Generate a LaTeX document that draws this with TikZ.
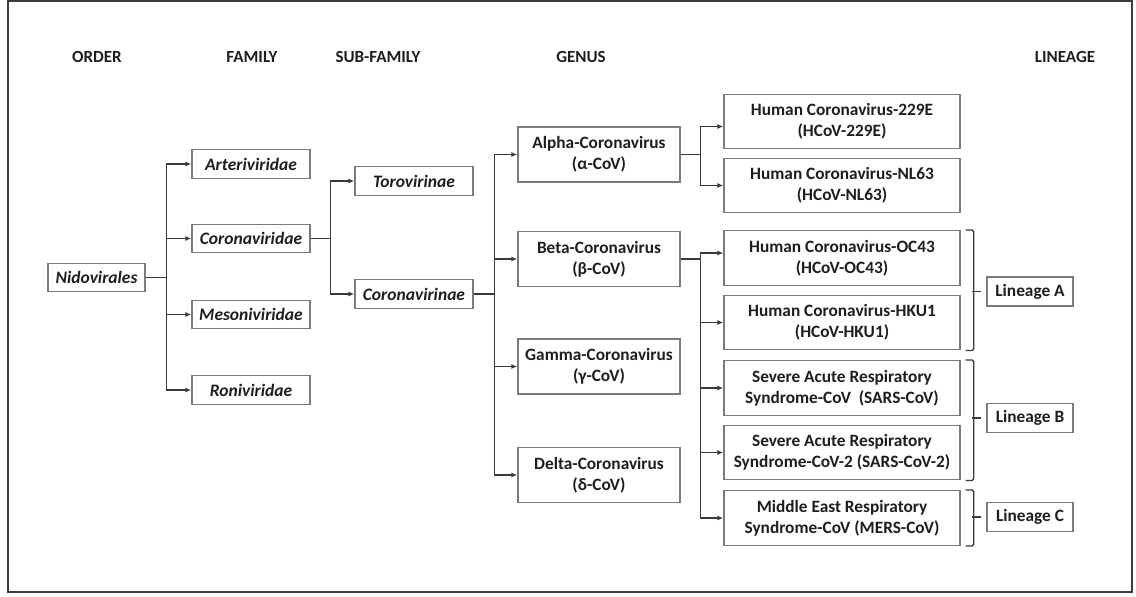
\documentclass[tikz,border=0pt]{standalone}
\usepackage{fontspec}
\setmainfont{Carlito}
\usetikzlibrary{arrows.meta,calc}
\definecolor{boxgray}{HTML}{7A7A7A}
\definecolor{linegray}{HTML}{3A3A3A}
\definecolor{txt}{HTML}{1E1E1E}
\definecolor{framegray}{HTML}{3C3C3C}

\begin{document}
\begin{tikzpicture}[x=1pt,y=-1pt,
  box/.style={draw=boxgray, line width=1.4pt, fill=white, inner sep=0pt, align=center,
    text=txt, font=\fontsize{17.3}{21}\selectfont\bfseries},
  taxon/.style={box, minimum width=118pt, minimum height=28.5pt,
    font=\fontsize{17.5}{21}\selectfont\bfseries\itshape},
  genus/.style={box, minimum width=162pt, minimum height=55pt},
  species/.style={box, minimum width=236pt, minimum height=54.5pt},
  lineage/.style={box, minimum width=86pt, minimum height=29pt},
  header/.style={text=txt, font=\fontsize{17}{20}\selectfont\bfseries},
  link/.style={draw=linegray, line width=1.5pt},
  arr/.style={link, -{Latex[length=6pt,width=5pt]}},
  brace/.style={draw=linegray, line width=1.3pt, rounded corners=1.5pt}]

\useasboundingbox (0,0) rectangle (1136,597);
\draw[framegray, line width=1.8pt] (8,1) rectangle (1132,592);

% column headings
\node[header] (hOrder)   at (97,57)   {ORDER};
\node[header] (hFamily)  at (252,57)  {FAMILY};
\node[header] (hSub)     at (378,57)  {SUB-FAMILY};
\node[header] (hGenus)   at (581,57)  {GENUS};
\node[header] (hLineage) at (1065,57) {LINEAGE};

% order and families
\node[taxon, minimum width=97pt] (nido) at (96.5,277.5) {Nidovirales};
\node[taxon] (arter) at (251,164)   {Arteriviridae};
\node[taxon] (corvir) at (251,238.5) {Coronaviridae};
\node[taxon] (meso) at (251,314.5)  {Mesoniviridae};
\node[taxon] (roni) at (251,390)    {Roniviridae};

% sub-families
\node[taxon] (toro) at (414,181)     {Torovirinae};
\node[taxon] (corvinae) at (414,294) {Coronavirinae};

% genera
\node[genus] (alpha) at (599,154.5) {Alpha-Coronavirus\\(α-CoV)};
\node[genus] (beta)  at (599,259)   {Beta-Coronavirus\\(β-CoV)};
\node[genus] (gamma) at (599,366.5) {Gamma-Coronavirus\\(γ-CoV)};
\node[genus] (delta) at (599,475)   {Delta-Coronavirus\\(δ-CoV)};

% species
\node[species] (e229) at (842,121.5) {Human Coronavirus-229E\\(HCoV-229E)};
\node[species] (nl63) at (842,185.5) {Human Coronavirus-NL63\\(HCoV-NL63)};
\node[species] (oc43) at (842,258)   {Human Coronavirus-OC43\\(HCoV-OC43)};
\node[species] (hku1) at (842,322.5) {Human Coronavirus-HKU1\\(HCoV-HKU1)};
\node[species] (sars) at (842,388)   {Severe Acute Respiratory\\Syndrome-CoV\ \ (SARS-CoV)};
\node[species] (sars2) at (842,452.5) {Severe Acute Respiratory\\Syndrome-CoV-2 (SARS-CoV-2)};
\node[species] (mers) at (842,518)   {Middle East Respiratory\\Syndrome-CoV (MERS-CoV)};

% lineages
\node[lineage] (linA) at (1030,291.5) {Lineage A};
\node[lineage] (linB) at (1030,418)   {Lineage B};
\node[lineage] (linC) at (1030,517)   {Lineage C};

% order -> families
\draw[link] (nido.east) -- ++(21,0) coordinate (bOrder);
\foreach \n in {arter,corvir,meso,roni} \draw[arr] (bOrder) |- (\n.west);

% family -> sub-families
\draw[link] (corvir.east) -- ++(20,0) coordinate (bFam);
\foreach \n in {toro,corvinae} \draw[arr] (bFam) |- (\n.west);

% sub-family -> genera
\draw[link] (corvinae.east) -- ++(21,0) coordinate (bSub);
\foreach \n in {alpha,beta,gamma,delta} \draw[arr] (bSub) |- (\n.west);

% alpha -> species
\draw[link] (alpha.east) -- ++(20,0) coordinate (bAlpha);
\draw[arr] (bAlpha) |- ([yshift=-5pt]e229.west);
\draw[arr] (bAlpha) |- (nl63.west);

% beta -> species
\draw[link] (beta.east) -- ++(20,0) coordinate (bBeta);
\draw[arr] (bBeta) |- ([yshift=5pt]oc43.west);
\foreach \n in {hku1,sars,sars2,mers} \draw[arr] (bBeta) |- (\n.west);

% lineage brackets
\draw[brace] ($(oc43.north east)+(5,0)$) -- ++(8,0) |- ($(hku1.south east)+(5,0)$);
\draw[brace] ($(sars.north east)+(5,0)$) -- ++(8,0) |- ($(sars2.south east)+(5,0)$);
\draw[brace] ($(mers.north east)+(5,0)$) -- ++(8,0) |- ($(mers.south east)+(5,0)$);
\draw[link, line width=1.3pt] (linA.west) ++(-14,0) -- ++(9,0);
\draw[link, line width=1.3pt] (linB.west) ++(-14,0) -- ++(9,0);
\draw[link, line width=1.3pt] (linC.west) ++(-14,0) -- ++(9,0);

\end{tikzpicture}
\end{document}
